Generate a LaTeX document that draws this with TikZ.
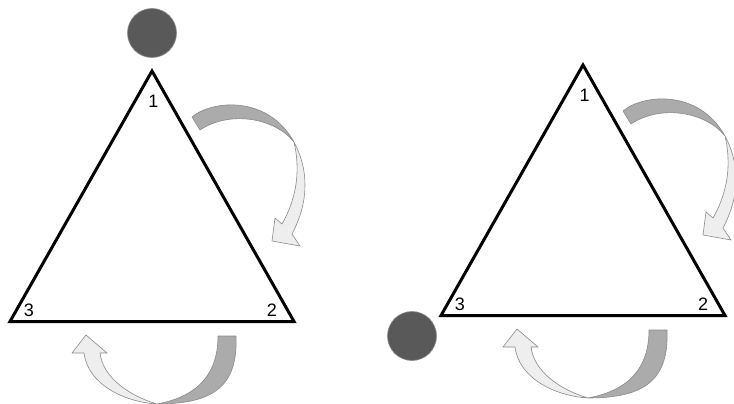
\documentclass[tikz,border=0pt]{standalone}
\usepackage{fontspec}
\setmainfont{Liberation Sans}
\definecolor{ballgray}{HTML}{595959}
\definecolor{bandedge}{HTML}{8A8A8A}
\definecolor{banddark}{HTML}{ABABAB}
\definecolor{bandlight}{HTML}{EEEEEE}

\begin{document}
\begin{tikzpicture}[
    x=1pt, y=-1pt,
    side/.style={line width=3pt, line join=miter},
    ball/.style={draw=bandedge, circle, fill=ballgray, minimum size=49pt, inner sep=0pt, line width=0.6pt},
    cornerlabel/.style={font=\fontsize{18}{18}\selectfont, inner sep=0pt},
    darkband/.style={draw=bandedge, fill=banddark, line width=0.6pt, line join=round},
    lightband/.style={draw=bandedge, fill=bandlight, line width=0.6pt, line join=round},
]
    \useasboundingbox (0,0) rectangle (734,404);

    \foreach \s/\dx/\dy in {L/0/0, R/431/-6} {
        \begin{scope}[shift={(\dx,\dy)}]
            \coordinate (v1\s) at (152,71);
            \coordinate (v2\s) at (294,321.5);
            \coordinate (v3\s) at (10,321.5);
            \draw[side] (v1\s) -- (v2\s) -- (v3\s) -- cycle;

            \node[cornerlabel] (n1\s) at (153.5,101) {1};
            \node[cornerlabel] (n2\s) at (272,310) {2};
            \node[cornerlabel] (n3\s) at (29,310) {3};

            % turn from 1 to 2
            \draw[lightband] (294,142) .. controls (308,168) and (310,200) .. (292,234)
                -- (300,246) -- (272,241) -- (275,218) -- (282,224)
                .. controls (298,196) and (300,168) .. (294,142) -- cycle;
            \draw[darkband] (192,117) .. controls (212,100) and (268,95) .. (294,142)
                .. controls (275,118) and (230,110) .. (200,130) -- cycle;

            % turn from 2 to 3
            \draw[lightband] (157,404) .. controls (125,402) and (88,385) .. (84,353)
                -- (72,353) -- (86,335) -- (107,353) -- (100,353)
                .. controls (103,378) and (130,396) .. (157,404) -- cycle;
            \draw[darkband] (218,336) -- (236,336) .. controls (238,385) and (215,404) .. (157,404)
                .. controls (200,396) and (218,372) .. (218,336) -- cycle;
        \end{scope}
    }

    \node[ball] (ballL) at (152,33) {};
    \node[ball] (ballR) at (412,336) {};

\end{tikzpicture}
\end{document}
